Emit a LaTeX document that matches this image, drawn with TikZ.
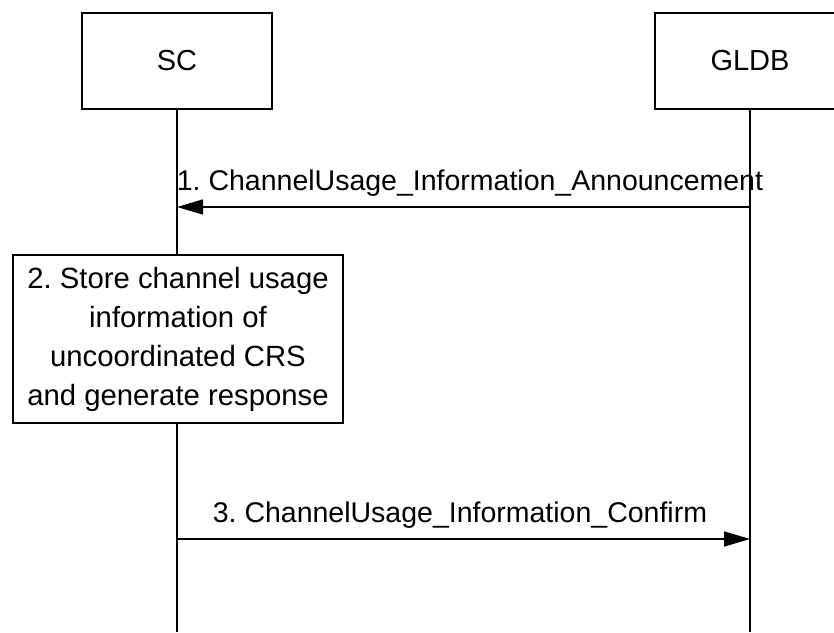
\documentclass[tikz,border=0pt]{standalone}
\usepackage{fontspec}
\setmainfont{Liberation Sans}
\usetikzlibrary{arrows.meta}
\begin{document}
\frenchspacing
\begin{tikzpicture}[x=1pt,y=-1pt,
  ent/.style={draw,line width=1.5pt,minimum width=190pt,minimum height=96pt,inner sep=0pt,font=\fontsize{29}{34}\selectfont},
  proc/.style={draw,line width=1.5pt,minimum width=330pt,minimum height=168pt,inner sep=0pt,align=center,font=\fontsize{29.3}{39}\selectfont},
  life/.style={line width=1.5pt},
  msg/.style={line width=1.5pt,-{Triangle[length=26pt,width=15pt]}},
  lbl/.style={font=\fontsize{28.5}{34}\selectfont,inner sep=0pt}]
\useasboundingbox (0,0) rectangle (834,632);
\node[ent] (sc) at (177,61) {SC};
\begin{scope}
\clip (0,0) rectangle (834,632);
\node[ent] (gldb) at (750,61) {GLDB};
\end{scope}
\node[proc] (store) at (178,339) {2. Store channel usage\\information of\\uncoordinated CRS\\and generate response};
\coordinate (scend) at (177,632);
\coordinate (gend) at (750,632);
\coordinate (g1) at (750,207);
\coordinate (s1) at (177,207);
\coordinate (s3) at (177,539);
\coordinate (g3) at (750,539);
\draw[life] (sc.south) -- (sc.south |- store.north);
\draw[life] (sc.south |- store.south) -- (scend);
\draw[life] (gldb.south) -- (gend);
\draw[msg] (g1) -- (s1);
\draw[msg] (s3) -- (g3);
\node[lbl,anchor=base] (l1) at (470,190) {1. ChannelUsage\_Information\_Announcement};
\node[lbl,anchor=base] (l3) at (460,522) {3. ChannelUsage\_Information\_Confirm};
\end{tikzpicture}
\end{document}
